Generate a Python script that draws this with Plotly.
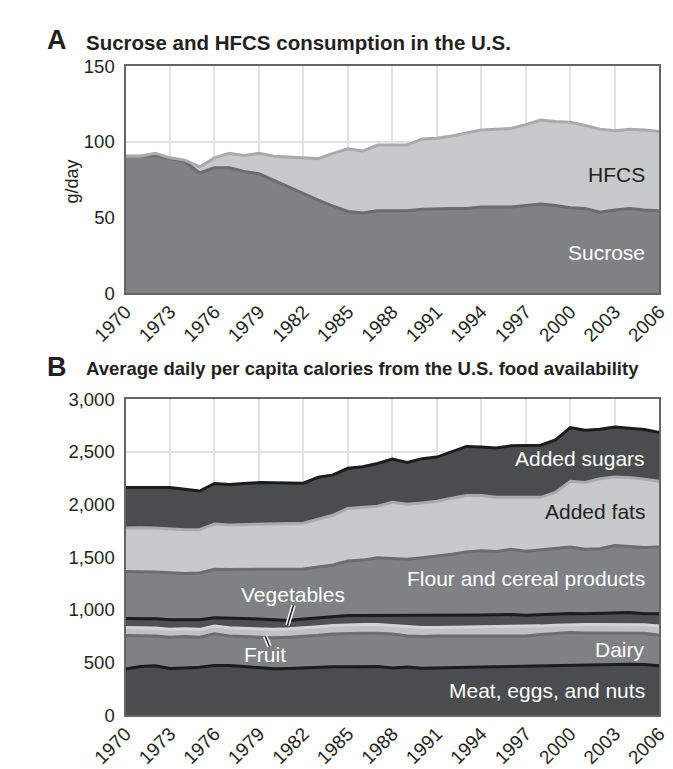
import plotly.graph_objects as go

years = list(range(1970, 2007))
tick_years = list(range(1970, 2007, 3))
tick_year_labels = [str(y) for y in tick_years]

# Panel A (g/day)
sucrose = [90.5, 90.5, 91, 89, 87, 79.5, 83, 83, 80.5, 79,
           74.5, 70, 65.5, 61.5, 57.5, 54, 53, 54.5, 54.5, 54.5,
           55.5, 56, 56, 56, 57, 57, 57, 58, 59, 58,
           56.5, 56, 53.5, 55, 56, 55, 54.5]
hfcs = [0, 0, 1.5, 0.5, 1, 4, 6.5, 9.5, 10.5, 13.5,
        16, 20, 24, 27.5, 35, 41.5, 41, 43.5, 43.5, 43.5,
        46.5, 46.5, 48, 50, 51, 51.5, 52, 53.5, 55.5, 55.5,
        56.5, 55, 55, 52.5, 52.5, 53, 52.5]
a_ticks = [0, 50, 100, 150]
a_tick_labels = ["0", "50", "100", "150"]

# Panel B (calories/day)
meat = [438, 463, 469, 444, 449, 456, 473, 472, 463, 454,
        440, 444, 451, 454, 460, 461, 463, 463, 448, 458,
        446, 447, 451, 454, 457, 460, 463, 466, 469, 472,
        475, 478, 481, 484, 484, 481, 469]
dairy = [318, 292, 284, 297, 298, 285, 299, 281, 284, 287,
         295, 297, 296, 305, 312, 317, 315, 315, 324, 294,
         301, 306, 302, 299, 296, 293, 290, 287, 296, 306,
         309, 303, 299, 294, 294, 297, 290]
fruit = [77, 75, 74, 74, 74, 74, 74, 77, 77, 77,
         80, 80, 80, 81, 80, 80, 83, 83, 80, 84,
         86, 80, 82, 85, 87, 87, 87, 87, 83, 77,
         77, 80, 81, 83, 86, 80, 87]
vegetables = [86, 88, 89, 92, 86, 92, 80, 96, 95, 95,
              92, 79, 86, 86, 86, 89, 86, 86, 95, 109,
              112, 114, 113, 112, 112, 113, 115, 108, 107, 107,
              105, 102, 105, 111, 111, 104, 116]
flour = [446, 447, 444, 445, 439, 443, 460, 458, 464, 472,
         479, 486, 475, 479, 488, 516, 525, 547, 543, 536,
         550, 563, 580, 599, 608, 602, 619, 608, 615, 623,
         630, 613, 614, 639, 625, 630, 634]
fats = [411, 415, 416, 416, 414, 410, 429, 422, 427, 430,
        432, 436, 434, 456, 472, 499, 503, 490, 530, 521,
        520, 520, 532, 536, 525, 513, 494, 512, 498, 530,
        624, 632, 665, 649, 655, 648, 624]
sugars = [386, 384, 391, 394, 384, 368, 384, 384, 389, 393,
          387, 383, 380, 399, 383, 381, 383, 405, 410, 396,
          420, 420, 439, 466, 460, 468, 489, 495, 495, 498,
          509, 497, 469, 475, 465, 471, 463]
b_ticks = [0, 500, 1000, 1500, 2000, 2500, 3000]
b_tick_labels = ["0", "500", "1,000", "1,500", "2,000", "2,500", "3,000"]

W, H = 673, 769
FONT = "Liberation Sans, Arial, Helvetica, sans-serif"
TXT = "#231f20"

fig = go.Figure()

def add_layer(vals, fill, line, xa, ya, group):
    fig.add_trace(go.Scatter(
        x=years, y=vals, stackgroup=group, mode="lines",
        line=dict(color=line, width=3), fillcolor=fill,
        xaxis=xa, yaxis=ya, hoverinfo="skip", showlegend=False))

add_layer(sucrose, "#808184", "#6b6c6f", "x", "y", "a")
add_layer(hfcs, "#c8c9cb", "#a9aaac", "x", "y", "a")

add_layer(meat, "#4b4c4e", "#1c1c1c", "x2", "y2", "b")
add_layer(dairy, "#808184", "#6c6d70", "x2", "y2", "b")
add_layer(fruit, "#c0c1c3", "#d2d3d5", "x2", "y2", "b")
add_layer(vegetables, "#4f5052", "#1c1c1c", "x2", "y2", "b")
add_layer(flour, "#808184", "#6c6d70", "x2", "y2", "b")
add_layer(fats, "#c8c9cb", "#a9aaac", "x2", "y2", "b")
add_layer(sugars, "#4b4c4e", "#1c1c1c", "x2", "y2", "b")

xdom = [97 / W, 669 / W]
common_x = dict(domain=xdom, range=[1970, 2006], tickvals=tick_years,
                ticktext=tick_year_labels, tickangle=-45, showgrid=True,
                gridcolor="#e2e2e2", gridwidth=2, showline=True, mirror=True,
                linecolor="#666666", linewidth=2.2, zeroline=False, ticks="",
                tickfont=dict(family=FONT, size=19, color=TXT),
                ticklabelstandoff=-2, ticklabeloverflow="allow")
common_y = dict(showgrid=True, gridcolor="#e2e2e2", gridwidth=2,
                showline=True, mirror=True, linecolor="#666666", linewidth=2.2,
                zeroline=False, ticks="", ticklabelstandoff=5,
                tickfont=dict(family=FONT, size=18.5, color=TXT))

fig.update_layout(
    width=W, height=H, margin=dict(l=0, r=0, t=0, b=0),
    paper_bgcolor="white", plot_bgcolor="white",
    xaxis=dict(anchor="y", **common_x),
    yaxis=dict(anchor="x", domain=[1 - 290 / H, 1 - 57 / H], range=[0, 150],
               tickvals=a_ticks, ticktext=a_tick_labels, **common_y),
    xaxis2=dict(anchor="y2", **common_x),
    yaxis2=dict(anchor="x2", domain=[1 - 724 / H, 1 - 399 / H], range=[0, 3000],
                tickvals=b_ticks, ticktext=b_tick_labels, **common_y),
    showlegend=False,
)

def ptext(x, y, text, size, bold=False, color=TXT, xanchor="left", angle=0):
    fig.add_annotation(xref="paper", yref="paper", x=x / W, y=1 - y / H,
                       text=f"<b>{text}</b>" if bold else text, showarrow=False,
                       xanchor=xanchor, yanchor="middle", textangle=angle,
                       font=dict(family=FONT, size=size, color=color))

ptext(11, 30, "A", 27, bold=True)
ptext(53, 32, "Sucrose and HFCS consumption in the U.S.", 20.5, bold=True)
ptext(11, 366, "B", 27, bold=True)
ptext(53, 368, "Average daily per capita calories from the U.S. food availability", 18.5, bold=True)
ptext(40, 175, "g/day", 18, xanchor="center", angle=-90)

def dtext(xa, ya, x, y, text, color, xanchor="right"):
    fig.add_annotation(xref=xa, yref=ya, x=x, y=y, text=text, showarrow=False,
                       xanchor=xanchor, yanchor="middle",
                       font=dict(family=FONT, size=21, color=color))

dtext("x", "y", 2005.15, 78.5, "HFCS", "#231f20")
dtext("x", "y", 2005.15, 27, "Sucrose", "white")
dtext("x2", "y2", 2005.15, 2437, "Added sugars", "white")
dtext("x2", "y2", 2005.15, 1930, "Added fats", "#231f20")
dtext("x2", "y2", 2005.15, 1302, "Flour and cereal products", "white")
dtext("x2", "y2", 1981.3, 1150, "Vegetables", "white", xanchor="center")
dtext("x2", "y2", 1979.4, 575, "Fruit", "white", xanchor="center")
dtext("x2", "y2", 2005.15, 628, "Dairy", "white")
dtext("x2", "y2", 2005.15, 231, "Meat, eggs, and nuts", "white")

# leader lines
for (x0, y0, x1, y1) in [(1981.33, 1043, 1980.92, 852), (1979.42, 751, 1979.71, 653)]:
    fig.add_shape(type="line", xref="x2", yref="y2", x0=x0, y0=y0, x1=x1, y1=y1,
                  line=dict(color="white", width=4.5))
    fig.add_shape(type="line", xref="x2", yref="y2", x0=x0, y0=y0, x1=x1, y1=y1,
                  line=dict(color="#1c1c1c", width=1.5))

fig.write_html("out.html", config={"displayModeBar": False},
               post_script="document.body.style.margin='0';"
                           "document.body.style.overflow='hidden';")
